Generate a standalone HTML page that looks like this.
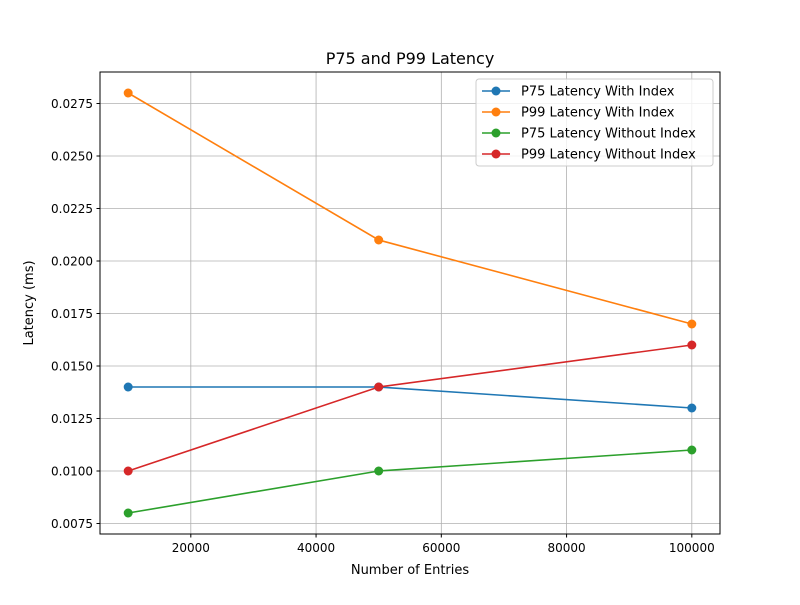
<!DOCTYPE html>
<html><head><meta charset="utf-8"><style>
body{margin:0;background:#fff;font-family:"Liberation Sans","DejaVu Sans",sans-serif}
svg text{font-family:"DejaVu Sans","Liberation Sans",sans-serif}
</style></head><body>
<svg id="chart" width="800" height="600" xmlns="http://www.w3.org/2000/svg">
<rect width="800" height="600" fill="#fff"/>
<g id="grid"></g>
<g id="ticks"></g>
<g id="series"></g>
<rect x="100" y="72" width="620" height="462" fill="none" stroke="#000" stroke-width="1"/>
<text x="410" y="64" font-size="16" text-anchor="middle">P75 and P99 Latency</text>
<text x="410" y="574" font-size="13" text-anchor="middle">Number of Entries</text>
<text x="33" y="303" font-size="13" text-anchor="middle" transform="rotate(-90 33 303)">Latency (ms)</text>
<g id="legend"></g>
</svg>
<script>
const categories=[10000,50000,100000];
const p75With=[0.014,0.014,0.013];
const p99With=[0.028,0.021,0.017];
const p75Without=[0.008,0.010,0.011];
const p99Without=[0.010,0.014,0.016];
const seriesNames=["P75 Latency With Index","P99 Latency With Index","P75 Latency Without Index","P99 Latency Without Index"];
const xTicks=[20000,40000,60000,80000,100000];
const yTicks=[0.0075,0.0100,0.0125,0.0150,0.0175,0.0200,0.0225,0.0250,0.0275];
const colors=["#1f77b4","#ff7f0e","#2ca02c","#d62728"];
const NS="http://www.w3.org/2000/svg";
const L=100,R=720,T=72,B=534;
const allX=categories, allY=[].concat(p75With,p99With,p75Without,p99Without);
const xmin=Math.min(...allX),xmax=Math.max(...allX),xm=(xmax-xmin)*0.05;
const ymin=Math.min(...allY),ymax=Math.max(...allY),ym=(ymax-ymin)*0.05;
const X0=xmin-xm,X1=xmax+xm,Y0=ymin-ym,Y1=ymax+ym;
const sx=v=>L+(v-X0)/(X1-X0)*(R-L);
const sy=v=>B-(v-Y0)/(Y1-Y0)*(B-T);
function mk(tag,attrs,parent){const e=document.createElementNS(NS,tag);for(const k in attrs)e.setAttribute(k,attrs[k]);parent.appendChild(e);return e;}
const grid=document.getElementById('grid'),ticks=document.getElementById('ticks');
xTicks.forEach(v=>{const x=sx(v);
 const g=mk('line',{x1:x,x2:x,y1:T,y2:B,stroke:'#b0b0b0','stroke-width':0.8},grid);
 
 
 mk('line',{x1:x,x2:x,y1:B,y2:B+3.5,stroke:'#000'},ticks);
 const t=mk('text',{x:x,y:B+18,'font-size':12,'text-anchor':'middle'},ticks);t.textContent=v;
 
 
});
yTicks.forEach(v=>{const y=sy(v);
 const g=mk('line',{x1:L,x2:R,y1:y,y2:y,stroke:'#b0b0b0','stroke-width':0.8},grid);
 
 
 mk('line',{x1:L-3.5,x2:L,y1:y,y2:y,stroke:'#000'},ticks);
 const t=mk('text',{x:L-7,y:y+4.5,'font-size':12,'text-anchor':'end'},ticks);t.textContent=v.toFixed(4);
 
 
});
const data=[p75With,p99With,p75Without,p99Without];
const sg=document.getElementById('series');
data.forEach((arr,i)=>{
 const pts=arr.map((v,j)=>sx(categories[j])+','+sy(v)).join(' ');
 const pl=mk('polyline',{points:pts,fill:'none',stroke:colors[i],'stroke-width':1.6},sg);
 
 
 arr.forEach((v,j)=>{const c=mk('circle',{cx:sx(categories[j]),cy:sy(v),r:4.5,fill:colors[i]},sg);
  
  });
});
const lg=document.getElementById('legend');
mk('rect',{x:476,y:79,width:237,height:87,rx:3,fill:'#fff','fill-opacity':0.8,stroke:'#ccc'},lg);
seriesNames.forEach((n,i)=>{const y=91+i*21;
 mk('line',{x1:482,x2:510,y1:y,y2:y,stroke:colors[i],'stroke-width':1.6},lg);
 mk('circle',{cx:496,cy:y,r:4.5,fill:colors[i]},lg);
 const t=mk('text',{x:521,y:y+4.5,'font-size':13},lg);t.textContent=n;
 
 
});
</script>
</body></html>
